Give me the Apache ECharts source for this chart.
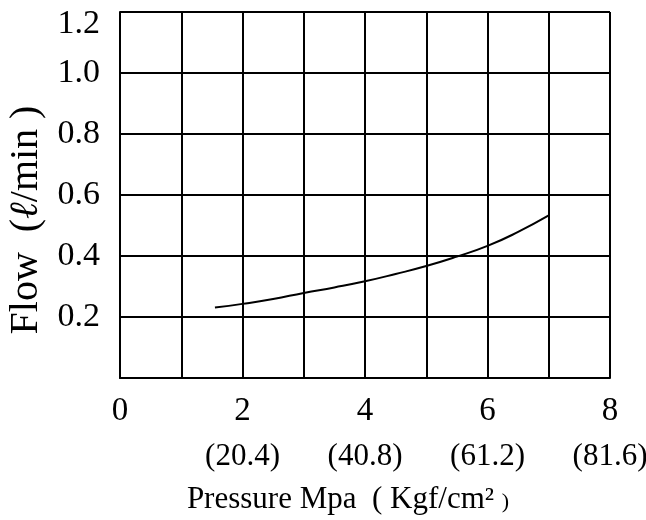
<!DOCTYPE html>
<html>
<head>
<meta charset="utf-8">
<script src="https://cdn.jsdelivr.net/npm/echarts@6/dist/echarts.min.js"></script>
<style>
  html, body { margin: 0; padding: 0; background: #fff; }
  #chart { width: 646px; height: 520px; }
</style>
</head>
<body>
<div id="chart"></div>
<script>
  // curve
  const pressure = [1.55, 2, 2.5, 3, 3.5, 4, 4.5, 5, 5.5, 6, 6.5, 7.0];
  const flow = [0.231, 0.243, 0.259, 0.279, 0.297, 0.317, 0.341, 0.367, 0.398, 0.433, 0.479, 0.533];

  // x tick labels (MPa) and their kgf/cm2 equivalents
  const mpaTicks = [0, 2, 4, 6, 8];
  const kgfTicks = ['', '(20.4)', '(40.8)', '(61.2)', '(81.6)'];

  const serif = "'Liberation Serif', 'Times New Roman', serif";

  let myChart = echarts.init(document.getElementById('chart'));

  const option = {
    animation: false,
    backgroundColor: '#fff',
    grid: {
      left: 120,
      right: 36,
      top: 12,
      bottom: 142,
      outerBoundsMode: 'none'
    },
    xAxis: {
      type: 'value',
      min: 0,
      max: 8,
      interval: 1,
      name: 'Pressure Mpa  ( Kgf/cm² {s|)}',
      nameLocation: 'middle',
      nameGap: 105,
      nameTextStyle: {
        fontFamily: serif,
        fontSize: 31,
        color: '#000',
        padding: [0, 34, 0, 0],
        rich: {
          s: { fontFamily: serif, fontSize: 22, color: '#000', padding: [6, 0, 0, 0] }
        }
      },
      axisLine: { show: true, lineStyle: { color: '#000', width: 2 } },
      axisTick: { show: false },
      splitLine: { show: true, lineStyle: { color: '#000', width: 2 } },
      axisLabel: {
        margin: 11,
        fontFamily: serif,
        fontSize: 33,
        color: '#000',
        lineHeight: 45,
        formatter: function (v) {
          const i = mpaTicks.indexOf(v);
          if (i < 0) return '';
          return kgfTicks[i] ? v + '\n{k|' + kgfTicks[i] + '}' : String(v);
        },
        rich: {
          k: { fontFamily: serif, fontSize: 31, color: '#000', lineHeight: 45 }
        }
      }
    },
    yAxis: {
      type: 'value',
      min: 0,
      max: 1.2,
      interval: 0.2,
      name: 'Flow  ({l|ℓ}/min )',
      nameLocation: 'middle',
      nameGap: 74,
      nameRotate: 90,
      nameTextStyle: {
        fontFamily: serif,
        fontSize: 40,
        color: '#000',
        padding: [0, 50, 0, 0],
        rich: {
          l: { fontFamily: serif, fontSize: 40, fontStyle: 'italic', color: '#000' }
        }
      },
      axisLine: { show: true, lineStyle: { color: '#000', width: 2 } },
      axisTick: { show: false },
      splitLine: { show: true, lineStyle: { color: '#000', width: 2 } },
      axisLabel: {
        margin: 20,
        fontFamily: serif,
        fontSize: 34,
        color: '#000',
        formatter: function (v) {
          if (v === 0) return '';
          const t = v.toFixed(1);
          return Math.abs(v - 1.2) < 1e-6 ? '{top|' + t + '}' : t;
        },
        rich: {
          top: { fontFamily: serif, fontSize: 34, color: '#000', padding: [24, 0, 0, 0] }
        }
      }
    },
    series: [
      {
        type: 'line',
        data: pressure.map((p, i) => [p, flow[i]]),
        smooth: true,
        showSymbol: false,
        lineStyle: { color: '#000', width: 2 }
      }
    ]
  };

  myChart.setOption(option);
</script>
</body>
</html>
